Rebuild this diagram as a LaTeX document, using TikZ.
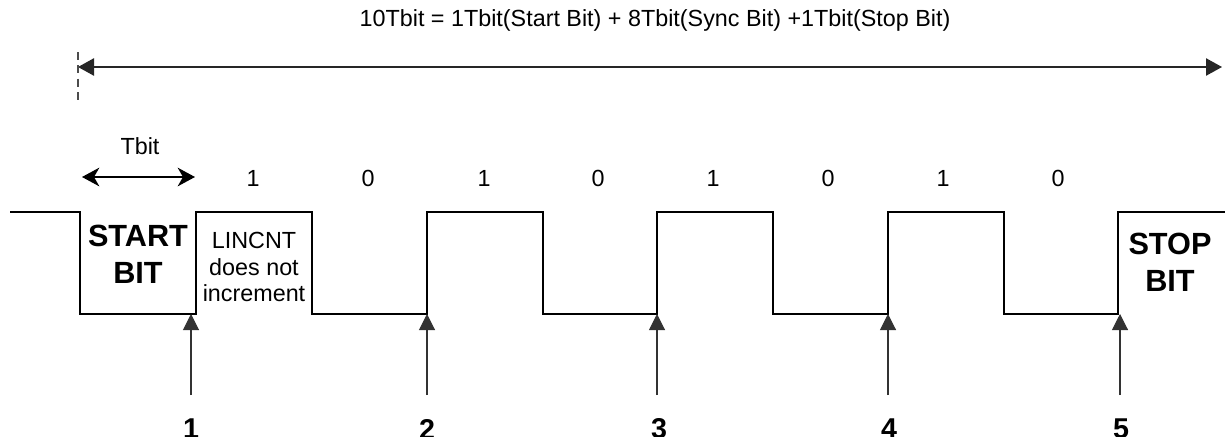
\documentclass[tikz,border=0pt]{standalone}
\usepackage{fontspec}
\setmainfont{Liberation Sans}
\usetikzlibrary{arrows.meta, positioning}

\begin{document}
\begin{tikzpicture}[
    x=0.75pt, y=-0.75pt,
    txt/.style={font=\fontsize{17.5}{20}\selectfont, inner sep=0pt, align=center},
    bigtxt/.style={font=\fontsize{23}{27.5}\selectfont\bfseries, inner sep=0pt, align=center},
    numtxt/.style={font=\fontsize{21.5}{24}\selectfont\bfseries, inner sep=0pt},
    wave/.style={line width=1.7pt, line join=miter},
    span/.style={{Triangle[length=12pt, width=13pt]}-{Triangle[length=12pt, width=13pt]}, line width=1pt, black!85},
    period/.style={{Stealth[length=13pt, width=14pt, inset=4pt]}-{Stealth[length=13pt, width=14pt, inset=4pt]}, line width=1.2pt},
    probe/.style={-{Triangle[length=12pt, width=12pt]}, line width=0.8pt, black!80}
]
\useasboundingbox (0,0) rectangle (1225,436);

% === Frame length (top) ===
\node[txt] (title) at (655,20) {10Tbit = 1Tbit(Start Bit) + 8Tbit(Sync Bit) +1Tbit(Stop Bit)};

\coordinate (spanL) at (78,67);
\coordinate (spanR) at (1222,67);
\draw[span] (spanL) -- (spanR);

\coordinate (markT) at (78,52);
\coordinate (markB) at (78,105);
\draw[dashed, dash pattern=on 6pt off 4pt, line width=0.8pt, black!70] (markT) -- (markB);

% === One bit time ===
\node[txt] (tbit) at (140,146) {Tbit};
\coordinate (tbitL) at (82,177);
\coordinate (tbitR) at (195,177);
\draw[period] (tbitL) -- (tbitR);

% bit values
\node[txt] (b1) at (253,178) {1};
\node[txt] (b2) at (368,178) {0};
\node[txt] (b3) at (484,178) {1};
\node[txt] (b4) at (598,178) {0};
\node[txt] (b5) at (713,178) {1};
\node[txt] (b6) at (828,178) {0};
\node[txt] (b7) at (943,178) {1};
\node[txt] (b8) at (1058,178) {0};

% === Sync field waveform ===
\draw[wave] (10,212) -| (80,314) -| (196,212) -| (312,314) -| (427,212) -| (543,314)
    -| (657,212) -| (773,314) -| (888,212) -| (1004,314) -| (1118,212) -- (1225,212);

\node[bigtxt] (start) at (138,254) {START\\BIT};
\node[bigtxt] (stop) at (1170,262) {STOP\\BIT};
\node[txt] (nocnt) at (254,267) {LINCNT\\does not\\increment};

% === Sample points ===
\coordinate (edge1) at (191,314);
\coordinate (edge2) at (427,314);
\coordinate (edge3) at (657,314);
\coordinate (edge4) at (888,314);
\coordinate (edge5) at (1120,314);

\coordinate (foot1) at (191,395);
\coordinate (foot2) at (427,395);
\coordinate (foot3) at (657,395);
\coordinate (foot4) at (888,395);
\coordinate (foot5) at (1120,395);

\draw[probe] (foot1) -- (edge1);
\draw[probe] (foot2) -- (edge2);
\draw[probe] (foot3) -- (edge3);
\draw[probe] (foot4) -- (edge4);
\draw[probe] (foot5) -- (edge5);

\node[numtxt] (n1) at (191,429) {1};
\node[numtxt] (n2) at (427,429) {2};
\node[numtxt] (n3) at (659,429) {3};
\node[numtxt] (n4) at (889,429) {4};
\node[numtxt] (n5) at (1121,429) {5};

\end{tikzpicture}
\end{document}
